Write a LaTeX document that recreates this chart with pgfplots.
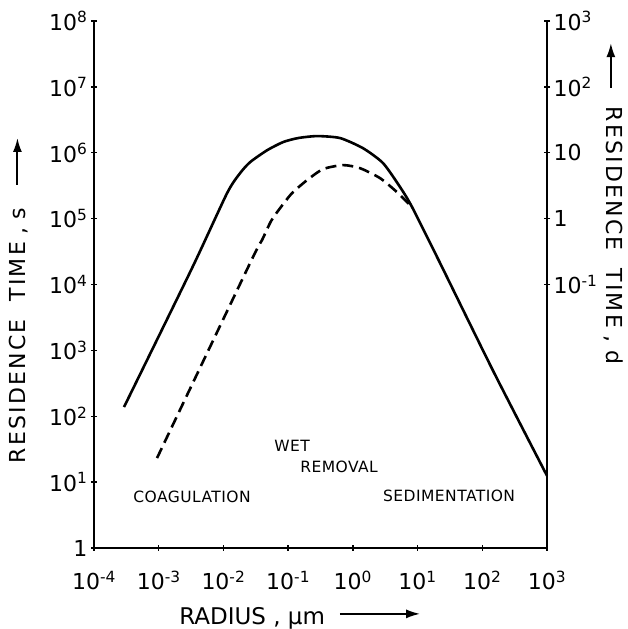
\documentclass[border=0pt]{standalone}
\usepackage{fontspec}
\setmainfont{DejaVu Sans}
\newfontfamily\lsfont[LetterSpace=10]{DejaVu Sans}
\newfontfamily\anfont[LetterSpace=3]{DejaVu Sans}
\usepackage{pgfplots}
\pgfplotsset{compat=1.18}
\usetikzlibrary{arrows.meta}
\begin{document}
\begin{tikzpicture}
\useasboundingbox (-94pt,-81pt) rectangle (534pt,548pt);
\begin{axis}[
  scale only axis, width=453pt, height=527pt,
  xmode=log, ymode=log,
  xmin=1e-4, xmax=1e3, ymin=1, ymax=1e8,
  axis x line*=bottom, axis y line*=left,
  axis line style={line width=1.9pt,-},
  xminorticks=false, yminorticks=false,
  xtick={1e-4,1e-3,1e-2,1e-1,1,10,100,1000},
  xticklabels={10\textsuperscript{-4},10\textsuperscript{-3},10\textsuperscript{-2},10\textsuperscript{-1},10\textsuperscript{0},10\textsuperscript{1},10\textsuperscript{2},10\textsuperscript{3}},
  ytick={1,10,100,1e3,1e4,1e5,1e6,1e7,1e8},
  yticklabels={1,10\textsuperscript{1},10\textsuperscript{2},10\textsuperscript{3},10\textsuperscript{4},10\textsuperscript{5},10\textsuperscript{6},10\textsuperscript{7},10\textsuperscript{8}},
  tick align=center, major tick length=6pt,
  every tick/.style={line width=1.4pt, black},
  tick label style={font=\fontsize{22}{24}\selectfont},
  xticklabel style={anchor=base, yshift=-39pt},
  xlabel={RADIUS , µm},
  xlabel style={at={(axis description cs:0.349,-0.146)}, anchor=base, font=\fontsize{23}{25}\selectfont},
  ylabel={\lsfont RESIDENCE\hspace{18pt}TIME\hspace{8pt},\hspace{8pt}s},
  ylabel style={at={(axis description cs:-0.152,0.154)}, anchor=base west, font=\fontsize{22}{24}\selectfont},
  clip=false,
]
\addplot[black, line width=2.6pt, smooth, tension=0.4] coordinates {
  (2.91e-4,138) (3.27e-3,1.77e4) (1.14e-2,2.44e5) (1.81e-2,4.90e5)
  (2.58e-2,7.19e5) (4.72e-2,1.09e6) (8.34e-2,1.45e6) (0.142,1.67e6)
  (0.280,1.79e6) (0.634,1.67e6) (1.44,1.17e6) (2.93,6.95e5)
  (5.37,3.01e5) (8.22,1.50e5) (22.3,2.11e4) (150,4.7e2) (1000,12.5)
};
\addplot[black, line width=2.6pt, smooth, tension=0.4, dash pattern=on 11pt off 6pt] coordinates {
  (9.42e-4,23.2) (2.58e-2,2.11e4) (3.95e-2,4.72e4) (5.44e-2,9.16e4)
  (7.50e-2,1.44e5) (0.115,2.44e5) (0.196,3.84e5) (0.346,5.64e5)
  (0.705,6.49e5) (1.29,5.83e5) (2.63,4.12e5) (4.82,2.52e5)
  (7.13,1.72e5) (8.22,1.50e5)
};
\node[font=\fontsize{15.5}{17}\selectfont\anfont] at (axis cs:3.27e-3,5.94) {COAGULATION};
\node[font=\fontsize{15.5}{17}\selectfont\anfont] at (axis cs:0.115,35.3) {WET};
\node[font=\fontsize{15.5}{17}\selectfont\anfont] at (axis cs:0.612,16.9) {REMOVAL};
\node[font=\fontsize{15.5}{17}\selectfont\anfont] at (axis cs:30.7,6.15) {SEDIMENTATION};
\node[rotate=-90, anchor=base west, font=\fontsize{22}{24}\selectfont\lsfont] at (axis description cs:1.132,0.844) {RESIDENCE\hspace{18pt}TIME\hspace{8pt},\hspace{8pt}d};
\draw[line width=1.9pt, -{Latex[length=14pt,width=9pt]}] (axis description cs:0.543,-0.125) -- (axis description cs:0.720,-0.125);
\draw[line width=1.9pt, -{Latex[length=14pt,width=9pt]}] (axis description cs:-0.169,0.689) -- (axis description cs:-0.169,0.778);
\draw[line width=1.9pt, -{Latex[length=14pt,width=9pt]}] (axis description cs:1.141,0.873) -- (axis description cs:1.141,0.958);
\end{axis}
\begin{axis}[
  scale only axis, width=453pt, height=527pt,
  xmode=log, ymode=log,
  xmin=1e-4, xmax=1e3, ymin=1e-5, ymax=1e3,
  axis x line=none, axis y line*=right,
  axis line style={line width=1.9pt,-},
  yminorticks=false,
  ytick={0.1,1,10,100,1000},
  yticklabels={10\textsuperscript{-1},1,10,10\textsuperscript{2},10\textsuperscript{3}},
  tick align=center, major tick length=6pt,
  every tick/.style={line width=1.4pt, black},
  tick label style={font=\fontsize{22}{24}\selectfont},
]
\end{axis}
\end{tikzpicture}
\end{document}
